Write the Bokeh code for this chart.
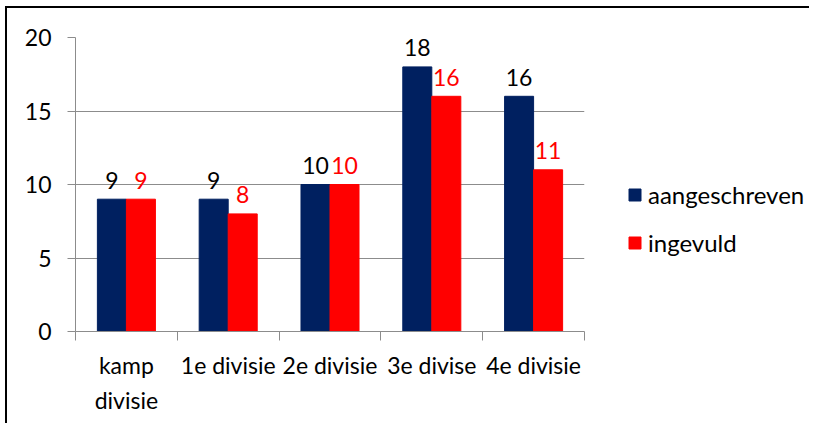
from bokeh.plotting import figure
from bokeh.layouts import row
from bokeh.models import (ColumnDataSource, Range1d, LinearAxis,
                          FixedTicker, Legend, LegendItem)
from bokeh.transform import dodge
from bokeh.core.properties import value
from bokeh.embed import file_html
from bokeh.resources import INLINE

categories = ["kamp\ndivisie", "1e divisie", "2e divisie", "3e divise", "4e divisie"]
series_names = ["aangeschreven", "ingevuld"]
aangeschreven = [9, 9, 10, 18, 16]
ingevuld = [9, 8, 10, 16, 11]
y_ticks = [0, 5, 10, 15, 20]

FONT = "Lato"
FS = "23px"
LFS = "24px"
GRID = "#8c8c8c"
BLUE = "#002060"
RED = "#ff0000"
H = 415

n = len(categories)
centers = [i + 0.5 for i in range(n)]
bounds = list(range(n + 1))

src = ColumnDataSource(dict(
    x=centers,
    a=aangeschreven,
    b=ingevuld,
    a_lbl=[str(v) for v in aangeschreven],
    b_lbl=[str(v) for v in ingevuld],
))

p = figure(width=582, height=H, x_range=Range1d(0, n),
           y_range=Range1d(0, 20), output_backend="svg", toolbar_location=None,
           x_axis_location=None, min_border_left=68, min_border_top=29,
           min_border_right=5, min_border_bottom=92)
p.outline_line_color = None
p.xgrid.grid_line_color = None
p.ygrid.grid_line_color = GRID
p.ygrid.ticker = FixedTicker(ticks=y_ticks)

ya = p.yaxis[0]
ya.ticker = FixedTicker(ticks=y_ticks)
ya.axis_line_color = GRID
ya.major_tick_line_color = GRID
ya.major_tick_out = 8
ya.major_tick_in = 0
ya.minor_tick_line_color = None
ya.major_label_text_font = FONT
ya.major_label_text_font_size = FS
ya.major_label_text_color = "black"
ya.major_label_standoff = 16

# boundary ticks axis (no labels)
bax = LinearAxis(ticker=FixedTicker(ticks=bounds),
                 major_label_overrides={b: "" for b in bounds})
bax.axis_line_color = GRID
bax.major_tick_line_color = GRID
bax.major_tick_out = 9
bax.major_tick_in = 0
bax.minor_tick_line_color = None
bax.major_label_standoff = 0
p.add_layout(bax, "below")

# category label axis
cax = LinearAxis(ticker=FixedTicker(ticks=centers),
                 major_label_overrides={c: lbl for c, lbl in zip(centers, categories)})
cax.axis_line_color = None
cax.major_tick_line_color = None
cax.minor_tick_line_color = None
cax.major_label_text_font = FONT
cax.major_label_text_font_size = FS
cax.major_label_text_color = "black"
cax.major_label_text_line_height = 1.25
cax.major_label_standoff = 4
p.add_layout(cax, "below")

W = 0.285
p.vbar(x=dodge("x", -W / 2), top="a", width=W, source=src,
       fill_color=BLUE, line_color=BLUE)
p.vbar(x=dodge("x", W / 2), top="b", width=W, source=src,
       fill_color=RED, line_color=RED)

p.text(x=dodge("x", -W / 2), y="a", text="a_lbl", source=src,
       text_font=value(FONT), text_font_size=FS, text_color="black",
       text_align="center", text_baseline="alphabetic", y_offset=-19)
p.text(x=dodge("x", W / 2), y="b", text="b_lbl", source=src,
       text_font=value(FONT), text_font_size=FS, text_color=RED,
       text_align="center", text_baseline="alphabetic", y_offset=-19)

# legend panel (hidden renderers carry the series styling for the legend glyphs)
leg = figure(width=220, height=H, x_range=Range1d(0, 1), y_range=Range1d(0, 1),
             output_backend="svg", toolbar_location=None, min_border=0)
leg.axis.visible = False
leg.grid.visible = False
leg.outline_line_color = None
l1 = leg.vbar(x="x", top="a", width=W, source=src, fill_color=BLUE, line_color=BLUE,
              visible=False)
l2 = leg.vbar(x="x", top="b", width=W, source=src, fill_color=RED, line_color=RED,
              visible=False)
legend = Legend(items=[LegendItem(label=series_names[0], renderers=[l1]),
                       LegendItem(label=series_names[1], renderers=[l2])],
                location=(38, 74), padding=0, margin=0, border_line_color=None,
                background_fill_alpha=0, glyph_width=15, glyph_height=15,
                label_standoff=6, spacing=19, label_text_font=FONT,
                label_text_font_size=LFS, label_text_color="black",
                click_policy="none")
leg.add_layout(legend, "center")

layout = row(p, leg)
layout.styles = {"margin-left": "5px", "margin-top": "6px",
                 "border-top": "2px solid black", "border-left": "2px solid black"}

open("out.html", "w").write(file_html(layout, INLINE))
